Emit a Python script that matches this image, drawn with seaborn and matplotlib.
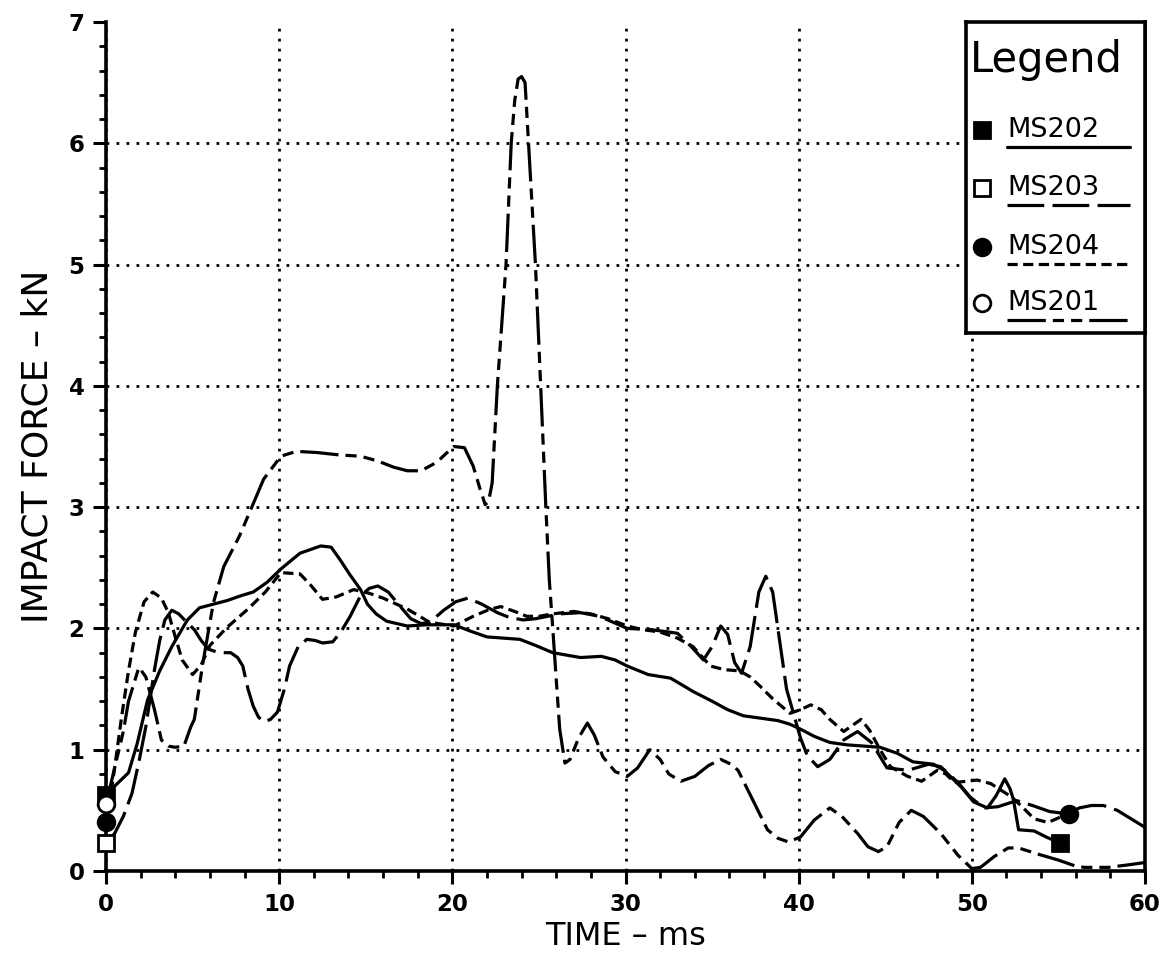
import matplotlib
matplotlib.use("Agg")
import matplotlib.pyplot as plt
from matplotlib.ticker import MultipleLocator
import seaborn as sns

# ---- impact force histories (time in ms, force in kN) ----
ms202_t = [0, 0.5, 1.3, 1.8, 2.4, 3.1, 3.8, 4.7, 5.4, 6.2, 7.0, 7.8, 8.5, 9.3, 10.1, 11.2,
           12.4, 13.0, 13.5, 14.1, 14.7, 15.1, 15.6, 16.2, 17.4, 18.5, 20.1, 21.0, 22.0,
           23.9, 24.8, 25.8, 27.4, 28.6, 29.4, 30.1, 31.3, 32.6, 33.2, 33.9, 35.0, 35.9,
           36.8, 37.8, 38.8, 39.5, 40.1, 40.9, 41.8, 42.8, 44.7, 45.7, 46.6, 47.8, 48.4,
           49.4, 50.1, 50.9, 51.4, 51.9, 52.2, 52.4, 52.7, 53.6, 54.3, 55.1]
ms202_f = [0.63, 0.70, 0.81, 1.05, 1.41, 1.65, 1.85, 2.07, 2.17, 2.20, 2.23, 2.27, 2.30,
           2.38, 2.49, 2.62, 2.68, 2.67, 2.57, 2.44, 2.32, 2.20, 2.12, 2.06, 2.02, 2.03,
           2.03, 1.98, 1.93, 1.91, 1.86, 1.80, 1.76, 1.77, 1.74, 1.69, 1.62, 1.59, 1.54,
           1.48, 1.40, 1.33, 1.28, 1.26, 1.24, 1.21, 1.17, 1.11, 1.06, 1.04, 1.02, 0.97,
           0.90, 0.88, 0.83, 0.69, 0.57, 0.52, 0.62, 0.76, 0.68, 0.59, 0.34, 0.33, 0.28,
           0.23]

ms203_t = [0, 0.5, 1.0, 1.5, 1.9, 2.3, 2.8, 3.1, 3.4, 3.8, 4.2, 4.6, 5.1, 5.5, 5.9, 6.5,
           7.2, 7.6, 7.9, 8.2, 8.5, 8.8, 9.1, 9.5, 9.9, 10.3, 10.6, 11.1, 11.6, 12.1, 12.5,
           13.1, 13.6, 14.1, 14.7, 15.2, 15.7, 16.3, 17.0, 17.6, 18.2, 18.7, 19.5, 20.2,
           20.9, 21.7, 22.6, 23.3, 24.1, 24.8, 25.5, 26.2, 27.4, 28.5, 29.3, 30.1, 31.5,
           33.0, 33.8, 34.5, 35.0, 35.5, 35.9, 36.3, 36.7, 37.2, 37.7, 38.1, 38.5, 38.9,
           39.3, 39.7, 40.1, 40.5, 41.1, 41.8, 42.6, 43.4, 44.2, 45.1, 46.3, 47.5, 48.2,
           49.2, 49.9, 50.7, 51.5, 52.6, 53.5, 54.5, 55.6, 56.2, 56.9, 57.6, 58.4, 59.2,
           60.0]
ms203_f = [0.23, 0.31, 0.45, 0.64, 0.90, 1.19, 1.66, 1.90, 2.07, 2.15, 2.12, 2.06, 1.99,
           1.90, 1.83, 1.80, 1.80, 1.76, 1.69, 1.50, 1.36, 1.27, 1.23, 1.25, 1.31, 1.50,
           1.69, 1.85, 1.91, 1.90, 1.88, 1.89, 1.98, 2.10, 2.27, 2.33, 2.35, 2.30, 2.18,
           2.08, 2.04, 2.05, 2.15, 2.22, 2.25, 2.20, 2.13, 2.09, 2.07, 2.08, 2.10, 2.12,
           2.13, 2.10, 2.05, 2.00, 1.99, 1.96, 1.85, 1.74, 1.85, 2.02, 1.95, 1.72, 1.63,
           1.85, 2.30, 2.43, 2.30, 1.90, 1.50, 1.30, 1.10, 0.95, 0.86, 0.92, 1.08, 1.15,
           1.06, 0.85, 0.83, 0.88, 0.86, 0.73, 0.61, 0.52, 0.53, 0.58, 0.54, 0.49, 0.47,
           0.52, 0.54, 0.54, 0.50, 0.43, 0.36]

ms204_t = [0, 0.4, 0.9, 1.3, 1.7, 2.2, 2.7, 3.2, 3.6, 4.0, 4.4, 5.0, 5.5, 6.0, 7.0, 8.2,
           9.2, 10.1, 11.2, 11.8, 12.5, 13.3, 14.3, 15.2, 16.0, 17.4, 18.7, 20.1, 21.2,
           22.2, 22.8, 23.6, 24.3, 25.0, 25.8, 27.0, 28.0, 29.0, 30.1, 31.0, 32.0, 33.0,
           33.9, 34.9, 35.7, 36.6, 37.2, 37.8, 38.5, 39.5, 40.1, 40.7, 41.3, 41.8, 42.6,
           43.1, 43.6, 44.1, 44.7, 45.3, 46.3, 47.1, 48.0, 48.5, 49.0, 49.7, 50.3, 51.1,
           52.3, 52.9, 53.6, 54.4, 55.2, 55.6]
ms204_f = [0.40, 0.75, 1.27, 1.65, 1.97, 2.22, 2.30, 2.25, 2.13, 1.93, 1.74, 1.62, 1.70,
           1.86, 2.01, 2.16, 2.30, 2.46, 2.45, 2.36, 2.24, 2.26, 2.32, 2.29, 2.25, 2.16,
           2.05, 2.02, 2.10, 2.16, 2.18, 2.14, 2.10, 2.10, 2.12, 2.14, 2.12, 2.08, 2.02,
           1.99, 1.97, 1.92, 1.85, 1.69, 1.66, 1.65, 1.60, 1.52, 1.42, 1.30, 1.33, 1.37,
           1.33, 1.25, 1.15, 1.20, 1.25, 1.16, 1.00, 0.86, 0.78, 0.74, 0.83, 0.80, 0.73,
           0.74, 0.75, 0.72, 0.61, 0.53, 0.43, 0.40, 0.45, 0.47]

ms201_t = [0, 0.5, 1.0, 1.3, 1.9, 2.3, 2.8, 3.2, 3.6, 4.0, 4.5, 4.9, 5.1, 5.6, 6.2, 6.8,
           7.7, 8.3, 9.1, 10.1, 11.0, 12.2, 13.5, 14.7, 15.7, 16.6, 17.4, 18.2, 19.1, 19.7,
           20.1, 20.7, 21.2, 21.6, 21.9, 22.1, 22.3, 22.6, 23.1, 23.4, 23.6, 23.8, 24.0,
           24.2, 24.4, 24.8, 25.1, 25.4, 25.6, 25.8, 26.0, 26.2, 26.5, 26.8, 27.3, 27.8,
           28.2, 28.7, 29.4, 30.1, 30.7, 31.4, 32.0, 32.5, 33.2, 34.0, 34.8, 35.5, 36.1,
           36.5, 37.3, 38.2, 38.8, 39.4, 40.1, 40.9, 41.8, 42.5, 43.4, 44.0, 44.6, 45.1,
           45.8, 46.5, 47.2, 48.2, 49.2, 50.0, 50.5, 51.3, 52.1, 52.7, 53.8, 55.0, 56.0,
           56.5, 57.9, 59.0, 60.0]
ms201_f = [0.55, 0.85, 1.15, 1.40, 1.68, 1.60, 1.33, 1.08, 1.03, 1.02, 1.03, 1.19, 1.25,
           1.72, 2.21, 2.51, 2.76, 2.96, 3.23, 3.42, 3.46, 3.45, 3.43, 3.42, 3.38, 3.33,
           3.30, 3.30, 3.37, 3.45, 3.50, 3.49, 3.34, 3.15, 3.02, 3.05, 3.20, 4.00, 5.00,
           6.00, 6.35, 6.53, 6.55, 6.50, 6.00, 5.00, 4.00, 3.00, 2.40, 2.00, 1.58, 1.17,
           0.89, 0.92, 1.10, 1.22, 1.12, 0.94, 0.82, 0.78, 0.85, 1.00, 0.92, 0.80, 0.74,
           0.78, 0.87, 0.92, 0.88, 0.83, 0.60, 0.34, 0.27, 0.24, 0.28, 0.42, 0.52, 0.45,
           0.31, 0.20, 0.16, 0.20, 0.40, 0.50, 0.45, 0.31, 0.13, 0.02, 0.03, 0.12, 0.19,
           0.19, 0.14, 0.09, 0.04, 0.03, 0.03, 0.05, 0.07]

series_names = ["MS202", "MS203", "MS204", "MS201"]
x_ticks = [0, 10, 20, 30, 40, 50, 60]
y_ticks = [0, 1, 2, 3, 4, 5, 6, 7]

# ---- styles ----
LW = 2.3
styles = {
    "MS202": dict(ls="-", marker="s", mfc="black"),
    "MS203": dict(ls=(0, (11.5, 2.6)), marker="s", mfc="white"),
    "MS204": dict(ls=(0, (3.2, 1.7)), marker="o", mfc="black"),
    "MS201": dict(ls=(0, (12.0, 2.2, 3.5, 2.2, 3.5, 2.2)), marker="o", mfc="white"),
}
data = {
    "MS202": (ms202_t, ms202_f),
    "MS203": (ms203_t, ms203_f),
    "MS204": (ms204_t, ms204_f),
    "MS201": (ms201_t, ms201_f),
}
# series whose record ends inside the plotted window get an end marker too
ends_inside = {"MS202", "MS204"}

sns.set_style("ticks")
plt.rcParams["font.family"] = ["DejaVu Sans"]
plt.rcParams["text.color"] = "black"
plt.rcParams["axes.labelcolor"] = "black"

W, H = 1163, 956
fig = plt.figure(figsize=(W / 100, H / 100), dpi=100)
ax = fig.add_axes([106 / W, 85 / H, 1039 / W, 849 / H])

for name in series_names:
    t, f = data[name]
    st = styles[name]
    sns.lineplot(x=t, y=f, ax=ax, color="black", linewidth=LW, linestyle=st["ls"],
                 sort=False, estimator=None, legend=False, zorder=3)
    pts = [0] + ([len(t) - 1] if name in ends_inside else [])
    ax.plot([t[i] for i in pts], [f[i] for i in pts], linestyle="none",
            marker=st["marker"], markersize=12, markerfacecolor=st["mfc"],
            markeredgecolor="black", markeredgewidth=2.0, clip_on=False, zorder=5)

ax.set_xlim(0, 60)
ax.set_ylim(0, 7)
ax.set_xticks(x_ticks)
ax.set_yticks(y_ticks)
ax.xaxis.set_minor_locator(MultipleLocator(2))
ax.yaxis.set_minor_locator(MultipleLocator(0.2))
ax.tick_params(which="major", direction="out", length=9.5, width=2.2,
               labelsize=16.5, pad=6, colors="black")
ax.tick_params(which="minor", direction="out", length=5, width=2.0, colors="black")
for lbl in ax.get_xticklabels() + ax.get_yticklabels():
    lbl.set_fontweight("bold")
ax.grid(True, which="major", color="black", linestyle=(0, (1, 2.6)), linewidth=2.0)
ax.set_axisbelow(True)
# the top edge of the frame stays open: no dotted line along y = 7
ax.get_ygridlines()[-1].set_visible(False)

for side in ["left", "bottom", "right"]:
    ax.spines[side].set_linewidth(2.6)
    ax.spines[side].set_color("black")
ax.spines["top"].set_visible(False)

ax.set_xlabel("TIME – ms", fontsize=23, labelpad=4, color="black")
ax.set_ylabel("IMPACT FORCE – kN", fontsize=26, labelpad=10, color="black")

# ---- boxed legend in the upper-right corner ----
lax = fig.add_axes([966 / W, (H - 333) / H, 179 / W, 311 / H], zorder=10)
lax.set_xlim(0, 179)
lax.set_ylim(311, 0)
lax.set_xticks([])
lax.set_yticks([])
lax.set_facecolor("white")
for sp in lax.spines.values():
    sp.set_linewidth(2.6)
    sp.set_color("black")
lax.text(80, 38, "Legend", ha="center", va="center", fontsize=30, color="black")
row_text = [108, 166, 225, 281]
for name, yt in zip(series_names, row_text):
    st = styles[name]
    lax.plot([16], [yt], linestyle="none", marker=st["marker"], markersize=12,
             markerfacecolor=st["mfc"], markeredgecolor="black", markeredgewidth=2.0)
    lax.text(41, yt, name, ha="left", va="center", fontsize=19.5, color="black")
    lax.plot([41, 164], [yt + 17, yt + 17], color="black", linewidth=LW,
             linestyle=st["ls"])

fig.savefig("out.png", dpi=100)
